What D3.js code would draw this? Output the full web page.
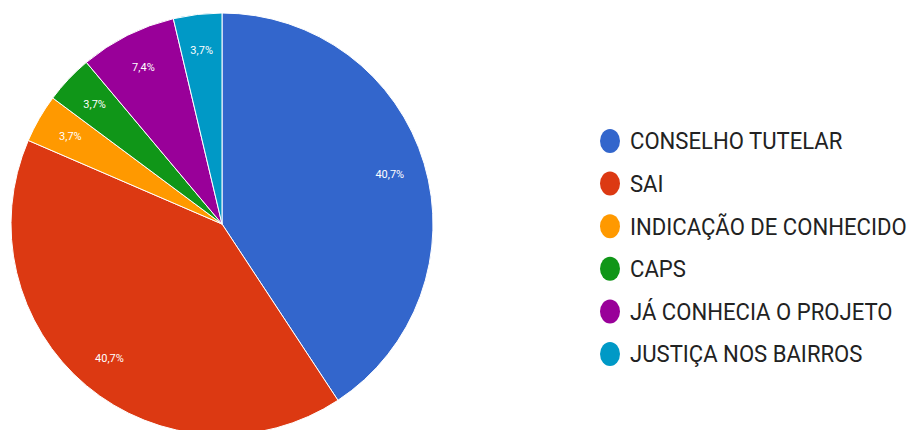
<!DOCTYPE html>
<html><head><meta charset="utf-8">
<script src="https://cdn.jsdelivr.net/npm/d3@7"></script>
<style>body{margin:0;background:#fff}svg{display:block}</style>
</head><body>
<svg id="chart" width="909" height="430"></svg>
<script>
const categories = ["CONSELHO TUTELAR","SAI","INDICAÇÃO DE CONHECIDO","CAPS","JÁ CONHECIA O PROJETO","JUSTIÇA NOS BAIRROS"];
const values = [11, 11, 1, 1, 2, 1];
const labels = ["40,7%","40,7%","3,7%","3,7%","7,4%","3,7%"];
const colors = ["#3366cc","#dc3912","#ff9900","#109618","#990099","#0099c6"];

const svg = d3.select("#chart");
const cx = 222, cy = 224, R = 211;
const pie = d3.pie().sort(null).value(d => d)(values);
const arc = d3.arc().innerRadius(0).outerRadius(R);
const labelArc = d3.arc().innerRadius(R*0.83).outerRadius(R*0.83);
const g = svg.append("g").attr("transform", `translate(${cx},${cy})`);
g.selectAll("path").data(pie).join("path")
  .attr("d", arc).attr("fill", (d,i) => colors[i])
  .attr("stroke", "#fff").attr("stroke-width", 1);
g.selectAll("text").data(pie).join("text")
  .attr("transform", d => `translate(${labelArc.centroid(d)})`)
  .attr("text-anchor", "middle").attr("dy", "0.35em")
  .attr("fill", "#fff").attr("font-family", "Roboto, Arial, sans-serif")
  .attr("font-size", 11)
  .text((d,i) => labels[i]);

const y = d3.scalePoint().domain(categories).range([141, 354]);
const leg = svg.append("g");
const items = leg.selectAll("g").data(categories).join("g")
  .attr("transform", d => `translate(610,${y(d)})`);
items.append("ellipse").attr("rx", 10).attr("ry", 12)
  .attr("fill", (d,i) => colors[i]);
items.append("text").attr("x", 19).attr("dy", "0.36em")
  .attr("fill", "#222").attr("font-family", "Roboto, Arial, sans-serif")
  .attr("font-size", 21)
  .attr("transform", "scale(1.053,1.12)")
  .text(d => d);
</script>
</body></html>
